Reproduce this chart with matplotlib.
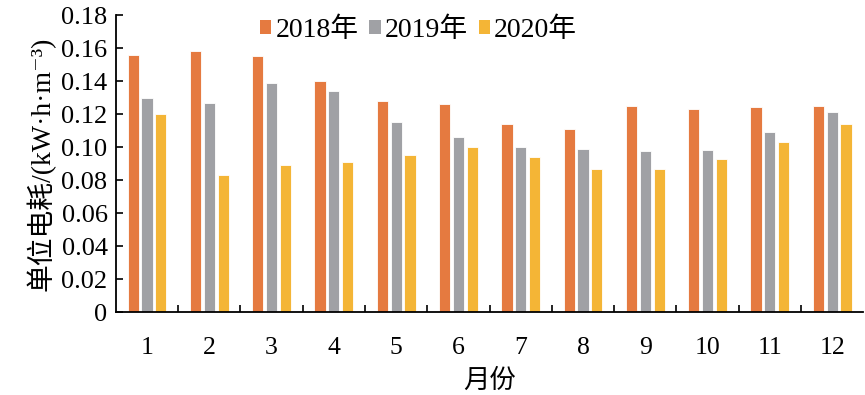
import numpy as np
import matplotlib
matplotlib.use("Agg")
import matplotlib.pyplot as plt
from matplotlib.patches import Patch

plt.rcParams['font.family'] = ['Liberation Serif', 'DejaVu Serif', 'Noto Sans CJK SC']

months = ["1", "2", "3", "4", "5", "6", "7", "8", "9", "10", "11", "12"]
v2018 = [0.156, 0.158, 0.155, 0.140, 0.128, 0.126, 0.114, 0.111, 0.125, 0.123, 0.124, 0.125]
v2019 = [0.130, 0.1265, 0.139, 0.134, 0.115, 0.106, 0.100, 0.099, 0.0976, 0.098, 0.109, 0.121]
v2020 = [0.120, 0.083, 0.089, 0.091, 0.095, 0.100, 0.094, 0.0865, 0.0867, 0.0925, 0.103, 0.114]
series = ["2018年", "2019年", "2020年"]
colors = ["#E57A40", "#A0A1A5", "#F4B536"]

fig = plt.figure(figsize=(8.65, 3.95), dpi=100)
ax = fig.add_axes([0.134, 0.21, 0.864, 0.752])

x = np.arange(len(months))
w, step = 0.18, 0.222
for k, (vals, c) in enumerate(zip((v2018, v2019, v2020), colors)):
    ax.bar(x + (k - 1)*step, vals, width=w, color=c, edgecolor="white",
           linewidth=0.6, label=series[k])

ax.set_xlim(-0.5, len(months) - 0.5)
ax.set_ylim(0, 0.18)
ax.set_yticks(np.arange(0, 0.181, 0.02))
ax.set_yticklabels(["0"] + [f"{t:.2f}" for t in np.arange(0.02, 0.181, 0.02)])
ax.set_xticks(x)
ax.set_xticklabels(months)
ax.set_xticks(np.arange(0.5, len(months) - 0.5, 1.0), minor=True)
ax.tick_params(axis="x", which="major", length=0, pad=18, labelsize=18.5)
ax.tick_params(axis="x", which="minor", direction="in", length=5, width=1.2)
ax.tick_params(axis="y", direction="in", length=5, width=1.2, labelsize=19, pad=6)
for s in ("top", "right"):
    ax.spines[s].set_visible(False)
for s in ("left", "bottom"):
    ax.spines[s].set_linewidth(1.3)

ax.set_ylabel("单位电耗/(kW·h·m⁻³)", fontsize=20, labelpad=4)
ax.set_xlabel("月份", fontsize=19, labelpad=7)

handles = [Patch(facecolor=c) for c in colors]
ax.legend(handles, series, loc="upper center", bbox_to_anchor=(0.405, 1.075),
          ncol=3, frameon=False, fontsize=20, handlelength=0.4,
          handleheight=0.4, handletextpad=0.15, columnspacing=0.4)

fig.savefig("out.png", dpi=100)
